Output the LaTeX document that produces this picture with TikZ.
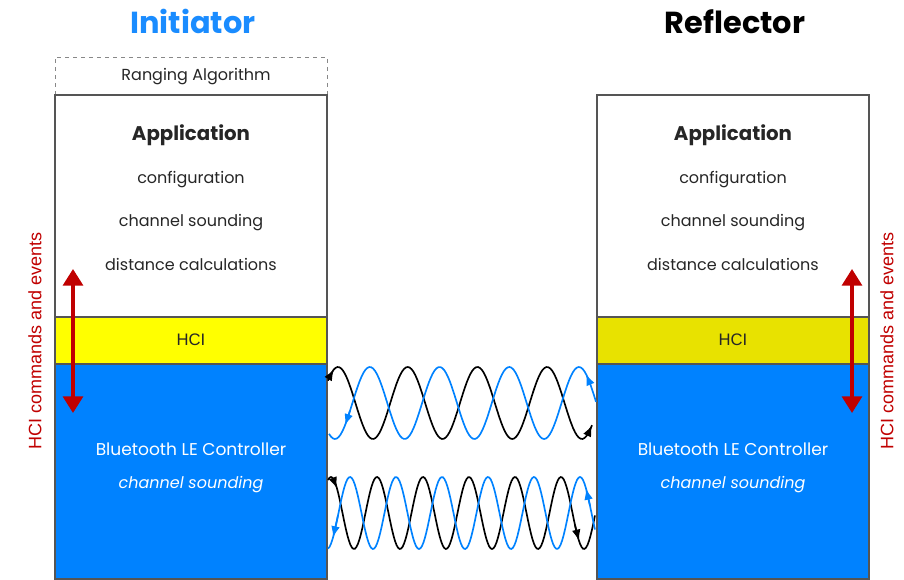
\documentclass[tikz,border=0pt]{standalone}
\usepackage{fontspec}
\setmainfont{Poppins}
\newfontfamily\arialfont{Liberation Sans}
\usepackage{tikz}
\usetikzlibrary{arrows.meta, positioning}

\definecolor{csblue}{RGB}{0,130,255}
\definecolor{titleblue}{RGB}{26,140,255}
\definecolor{hciyellowL}{RGB}{255,255,0}
\definecolor{hciyellowR}{RGB}{232,226,0}
\definecolor{hcired}{RGB}{192,0,0}
\definecolor{edgegray}{RGB}{85,85,85}

\begin{document}
\begin{tikzpicture}[x=0.75pt,y=0.75pt,yscale=-1,xscale=1,
  declare function={
    topblack(\t)=403-36*cos(5.165*(\t-338));
    topblue(\t)=403+36*cos(5.165*(\t-335));
    lowblack(\t)=513-36*cos(7.826*(\t-331));
    lowblue(\t)=513+36*cos(7.826*(\t-327));
  },
  layer/.style={draw=edgegray, line width=1.1pt},
  title/.style={anchor=base, inner sep=0pt, font=\fontsize{22.8}{27}\selectfont\bfseries},
  apptxt/.style={anchor=base, inner sep=0pt, font=\fontsize{12}{15}\selectfont, text=black!85},
  ctrltxt/.style={anchor=base, inner sep=0pt, font=\fontsize{12.8}{15}\selectfont, text=white},
  hcitxt/.style={anchor=base, inner sep=0pt, font=\arialfont\fontsize{12.5}{15}\selectfont, text=black!85},
  sidetxt/.style={rotate=90, inner sep=0pt, font=\arialfont\fontsize{13.5}{16}\selectfont, text=hcired},
  hciarrow/.style={hcired, line width=2.4pt, {Triangle[width=15pt,length=12.5pt]}-{Triangle[width=15pt,length=12.5pt]}},
  wave/.style={line width=1.25pt},
  wavetip/.style={line width=1.25pt, -{Latex[length=8.5pt,width=6.5pt]}}
]
\useasboundingbox (0,0) rectangle (904,580);

%Ranging Algorithm box (dashed)
\draw [edgegray!70, dashed, line width=0.6pt] (55,95) -- (55,57) -- (327,57) -- (327,95) ;

%Initiator stack
\draw [layer, fill=white] (55,95) rectangle (327,317) ;
\draw [layer, fill=hciyellowL] (55,317) rectangle (327,364) ;
\draw [layer, fill=csblue] (55,364) rectangle (327,579) ;

%Reflector stack
\draw [layer, fill=white] (597,95) rectangle (869,317) ;
\draw [layer, fill=hciyellowR] (597,317) rectangle (869,364) ;
\draw [layer, fill=csblue] (597,364) rectangle (869,579) ;

% Text Node
\node [title, text=titleblue] (initTitle) at (193,34) {Initiator};
% Text Node
\node [title, text=black] (reflTitle) at (735,34) {Reflector};
% Text Node
\node [apptxt] (ranging) at (196,81) {Ranging Algorithm};

% Text Node
\node [apptxt, font=\fontsize{14.8}{18}\selectfont\bfseries] (appL) at (191,141) {Application};
\node [apptxt] (confL) at (191,184) {configuration};
\node [apptxt] (csL) at (191,227) {channel sounding};
\node [apptxt] (distL) at (191,271) {distance calculations};
\node [hcitxt] (hciL) at (191,346) {HCI};
\node [ctrltxt] (ctrlL) at (191,456) {Bluetooth LE Controller};
\node [ctrltxt, font=\fontsize{12}{15}\selectfont\itshape] (ctrlcsL) at (191,489) {channel sounding};

% Text Node
\node [apptxt, font=\fontsize{14.8}{18}\selectfont\bfseries] (appR) at (733,141) {Application};
\node [apptxt] (confR) at (733,184) {configuration};
\node [apptxt] (csR) at (733,227) {channel sounding};
\node [apptxt] (distR) at (733,271) {distance calculations};
\node [hcitxt] (hciR) at (733,346) {HCI};
\node [ctrltxt] (ctrlR) at (733,456) {Bluetooth LE Controller};
\node [ctrltxt, font=\fontsize{12}{15}\selectfont\itshape] (ctrlcsR) at (733,489) {channel sounding};

% Side labels
\node [sidetxt] (sideL) at (35,341) {HCI commands and events};
\node [sidetxt] (sideR) at (887,341) {HCI commands and events};

%HCI arrows
\coordinate (hciTopL) at (73,269);
\coordinate (hciBotL) at (73,413);
\coordinate (hciTopR) at (852,269);
\coordinate (hciBotR) at (852,413);
\draw [hciarrow] (hciTopL) -- (hciBotL) ;
\draw [hciarrow] (hciTopR) -- (hciBotR) ;

%Upper wave pair
\draw [wave, black, domain=328:592, samples=140] plot (\x, {topblack(\x)}) ;
\draw [wave, csblue, domain=329:596, samples=140] plot (\x, {topblue(\x)}) ;
\draw [wavetip, black] (330,{topblack(330)}) -- (334,{topblack(334)}) ;
\draw [wavetip, black] (588,{topblack(588)}) -- (592,{topblack(592)}) ;
\draw [wavetip, csblue] (350,{topblue(350)}) -- (345,{topblue(345)}) ;
\draw [wavetip, csblue] (590,{topblue(590)}) -- (586,{topblue(586)}) ;

%Lower wave pair
\draw [wave, black, domain=328:595, samples=180] plot (\x, {lowblack(\x)}) ;
\draw [wave, csblue, domain=328:595, samples=180] plot (\x, {lowblue(\x)}) ;
\draw [wavetip, black] (333,{lowblack(333)}) -- (337,{lowblack(337)}) ;
\draw [wavetip, black] (575,{lowblack(575)}) -- (579,{lowblack(579)}) ;
\draw [wavetip, csblue] (338,{lowblue(338)}) -- (333,{lowblue(333)}) ;
\draw [wavetip, csblue] (590,{lowblue(590)}) -- (586,{lowblue(586)}) ;

\end{tikzpicture}
\end{document}
